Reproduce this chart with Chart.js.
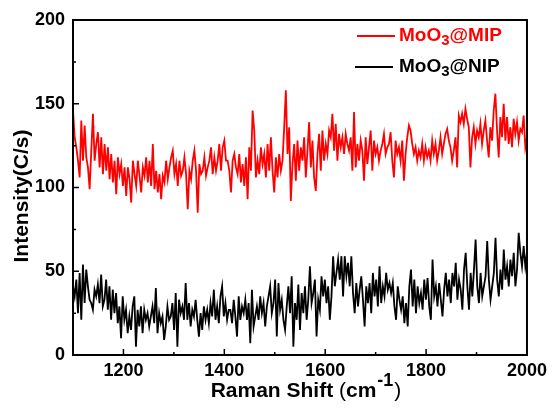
<!doctype html>
<html lang="en">
  <head>
    <meta charset="utf-8">
    <title>Raman spectra MoO3@MIP / MoO3@NIP</title>
    <script src="https://cdn.jsdelivr.net/npm/chart.js"></script>
    <style>
      body {
        margin: 0;
        background: #fff;
      }
      #ramanChart {
        display: block;
      }
    </style>
  </head>
  <body>
    <canvas id="ramanChart" width="552" height="409"></canvas>

    <script>
      // Raman shift range (cm-1), spectra sampled evenly across it
      const ramanStart = 1100;
      const ramanEnd = 2000;

      // MoO3@MIP intensity (C/s)
      const mipIntensity = [
        146,130,124,116,106,140,116,137,118,112,99,122,144,116,126,133,112,130,108,126,
        110,124,105,120,103,116,96,118,108,114,101,112,95,112,105,91,116,108,101,116,
        107,97,112,107,118,103,116,101,126,99,110,97,108,93,107,103,116,105,112,118,
        122,108,114,101,116,107,110,118,108,87,110,105,116,122,110,85,114,108,110,118,
        107,112,116,124,108,118,110,116,126,110,124,128,116,
        116,110,97,116,120,112,108,120,103,114,101,118,93,124,110,146,134,106,116,108,
        124,114,120,106,126,110,130,110,97,118,106,120,110,116,136,158,120,136,92,114,
        126,104,128,110,124,116,130,106,122,139,112,128,106,98,120,132,110,134,116,126,
        120,134,130,144,122,138,116,132,124,130,120,132,126,122,130,110,145,112,126,116,
        128,122,104,130,114,124,134,110,128,120,124,116,122,126,132,120,124,
        126,133,116,106,128,120,124,116,128,104,120,130,137,134,126,120,124,116,122,118,
        126,116,124,118,122,116,128,120,126,116,122,130,120,126,132,135,128,124,116,122,
        130,112,143,139,144,138,147,141,136,112,130,136,126,134,130,138,126,134,140,128,
        118,136,128,146,156,134,118,142,130,150,128,142,126,136,124,141,132,139,128,135,
        133,143,124,130
      ];

      // MoO3@NIP intensity (C/s)
      const nipIntensity = [
        41,35,45,25,49,21,54,31,51,41,33,31,27,39,35,42,31,48,29,33,
        45,27,41,21,39,25,37,19,29,10,35,21,27,13,23,15,29,35,5,27,
        17,29,13,27,21,25,17,23,29,19,40,13,25,19,23,9,17,29,21,23,
        31,15,37,5,33,25,29,21,43,21,31,17,27,23,33,21,11,25,15,29,
        21,27,19,31,23,39,21,29,19,35,41,23,31,21,27,
        27,19,33,23,11,35,21,29,25,33,21,31,7,39,17,23,29,21,35,25,
        31,17,29,35,41,25,31,45,11,43,27,33,21,15,29,41,25,47,5,31,
        21,42,15,37,25,41,21,33,53,31,37,45,11,33,27,47,35,45,31,41,
        21,35,59,41,49,57,45,59,35,59,47,55,41,59,37,25,43,29,39,47,
        33,17,41,31,43,25,49,35,45,29,53,31,41,35,49,39,43,
        37,43,29,21,41,33,27,35,19,31,17,41,51,29,45,25,41,31,37,27,
        45,33,46,29,21,57,35,41,29,43,33,23,39,49,35,45,31,49,41,55,
        33,45,39,27,51,61,41,27,49,35,51,69,41,31,49,35,41,47,68,45,
        33,41,49,70,45,35,51,39,63,45,53,41,57,47,61,41,51,73,61,53,
        65,53,61
      ];

      const xTickValues = [1200, 1400, 1600, 1800, 2000];
      const xMinorTicks = [1300, 1500, 1700, 1900];
      const yTickValues = [0, 50, 100, 150, 200];
      const yMinorTicks = [25, 75, 125, 175];

      // legend labels split as [base, subscript, rest]
      const seriesLabels = [['MoO', '3', '@MIP'], ['MoO', '3', '@NIP']];
      const seriesColors = ['#ff0000', '#000000'];

      const FONT = '"Liberation Sans", Arial, sans-serif';

      function toPoints(values) {
        const step = (ramanEnd - ramanStart) / (values.length - 1);
        return values.map((v, i) => ({ x: ramanStart + i * step, y: v }));
      }

      // frame, inward ticks, axis titles and legend
      const decorations = {
        id: 'decorations',
        afterDatasetsDraw(chart) {
          const { ctx, chartArea: a, scales } = chart;
          const x = scales.x, y = scales.y;
          ctx.save();
          ctx.strokeStyle = '#000';
          ctx.lineWidth = 2;
          ctx.strokeRect(a.left, a.top, a.right - a.left, a.bottom - a.top);

          ctx.lineWidth = 1.5;
          ctx.beginPath();
          xTickValues.forEach(v => {
            const px = x.getPixelForValue(v);
            ctx.moveTo(px, a.bottom); ctx.lineTo(px, a.bottom - 6);
          });
          xMinorTicks.forEach(v => {
            const px = x.getPixelForValue(v);
            ctx.moveTo(px, a.bottom); ctx.lineTo(px, a.bottom - 3);
          });
          yTickValues.forEach(v => {
            const py = y.getPixelForValue(v);
            ctx.moveTo(a.left, py); ctx.lineTo(a.left + 6, py);
          });
          yMinorTicks.forEach(v => {
            const py = y.getPixelForValue(v);
            ctx.moveTo(a.left, py); ctx.lineTo(a.left + 3, py);
          });
          ctx.stroke();

          // y title
          ctx.fillStyle = '#000';
          ctx.font = 'bold 21px ' + FONT;
          ctx.textAlign = 'center';
          ctx.textBaseline = 'middle';
          ctx.save();
          ctx.translate(22, 196);
          ctx.rotate(-Math.PI / 2);
          ctx.fillText('Intensity(C/s)', 0, 0);
          ctx.restore();

          // x title with superscript
          ctx.textAlign = 'left';
          ctx.textBaseline = 'alphabetic';
          const main = 'Raman Shift ';
          const open = '(';
          const cm = 'cm';
          const sup = '-1';
          const close = ')';
          ctx.font = 'bold 21px ' + FONT;
          const wMain = ctx.measureText(main).width;
          const wCm = ctx.measureText(cm).width;
          ctx.font = '21px ' + FONT;
          const wOpen = ctx.measureText(open).width;
          const wClose = ctx.measureText(close).width;
          ctx.font = 'bold 18px ' + FONT;
          const wSup = ctx.measureText(sup).width;
          const total = wMain + wOpen + wCm + wSup + wClose + 2;
          let tx = 306 - total / 2;
          const base = 397;
          ctx.font = 'bold 21px ' + FONT;
          ctx.fillText(main, tx, base);
          tx += wMain;
          ctx.font = '21px ' + FONT;
          ctx.fillText(open, tx, base);
          tx += wOpen;
          ctx.font = 'bold 21px ' + FONT;
          ctx.fillText(cm, tx, base);
          tx += wCm + 1;
          ctx.font = 'bold 18px ' + FONT;
          ctx.fillText(sup, tx, base - 11);
          tx += wSup + 1;
          ctx.font = '21px ' + FONT;
          ctx.fillText(close, tx, base);

          // legend
          const rows = [36, 67];
          const lineX = [[357, 395], [355, 393]];
          seriesLabels.forEach((parts, i) => {
            const ly = rows[i];
            ctx.strokeStyle = seriesColors[i];
            ctx.lineWidth = 2;
            ctx.beginPath();
            ctx.moveTo(lineX[i][0], ly); ctx.lineTo(lineX[i][1], ly);
            ctx.stroke();
            ctx.fillStyle = seriesColors[i];
            ctx.textBaseline = 'middle';
            let lx = 399;
            ctx.font = 'bold 19px ' + FONT;
            ctx.fillText(parts[0], lx, ly);
            lx += ctx.measureText(parts[0]).width;
            ctx.font = 'bold 15px ' + FONT;
            ctx.fillText(parts[1], lx, ly + 5);
            lx += ctx.measureText(parts[1]).width;
            ctx.font = 'bold 19px ' + FONT;
            ctx.fillText(parts[2], lx, ly);
          });
          ctx.restore();
        }
      };

      const ctx = document.getElementById('ramanChart').getContext('2d');
      const chart = new Chart(ctx, {
        type: 'line',
        data: {
          datasets: [
            {
              label: 'MoO3@MIP',
              data: toPoints(mipIntensity),
              borderColor: seriesColors[0],
              borderWidth: 1.8,
              pointRadius: 0,
              tension: 0
            },
            {
              label: 'MoO3@NIP',
              data: toPoints(nipIntensity),
              borderColor: seriesColors[1],
              borderWidth: 1.8,
              pointRadius: 0,
              tension: 0
            }
          ]
        },
        options: {
          responsive: false,
          animation: false,
          layout: { padding: { top: 20, right: 25, left: 0, bottom: 0 } },
          plugins: {
            legend: { display: false },
            tooltip: { enabled: false }
          },
          scales: {
            x: {
              type: 'linear',
              min: ramanStart,
              max: ramanEnd,
              grid: { display: false, drawTicks: false },
              border: { display: false },
              afterBuildTicks: scale => { scale.ticks = xTickValues.map(v => ({ value: v })); },
              afterFit: scale => { scale.height = 54; },
              ticks: {
                color: '#000',
                padding: 5,
                maxRotation: 0,
                callback: v => String(v),
                font: { family: FONT, size: 18, weight: 'bold' }
              }
            },
            y: {
              min: 0,
              max: 200,
              grid: { display: false, drawTicks: false },
              border: { display: false },
              afterBuildTicks: scale => { scale.ticks = yTickValues.map(v => ({ value: v })); },
              afterFit: scale => { scale.width = 73; },
              ticks: {
                color: '#000',
                padding: 8,
                callback: v => String(v),
                font: { family: FONT, size: 18, weight: 'bold' }
              }
            }
          }
        },
        plugins: [decorations]
      });
    </script>
  </body>
</html>
